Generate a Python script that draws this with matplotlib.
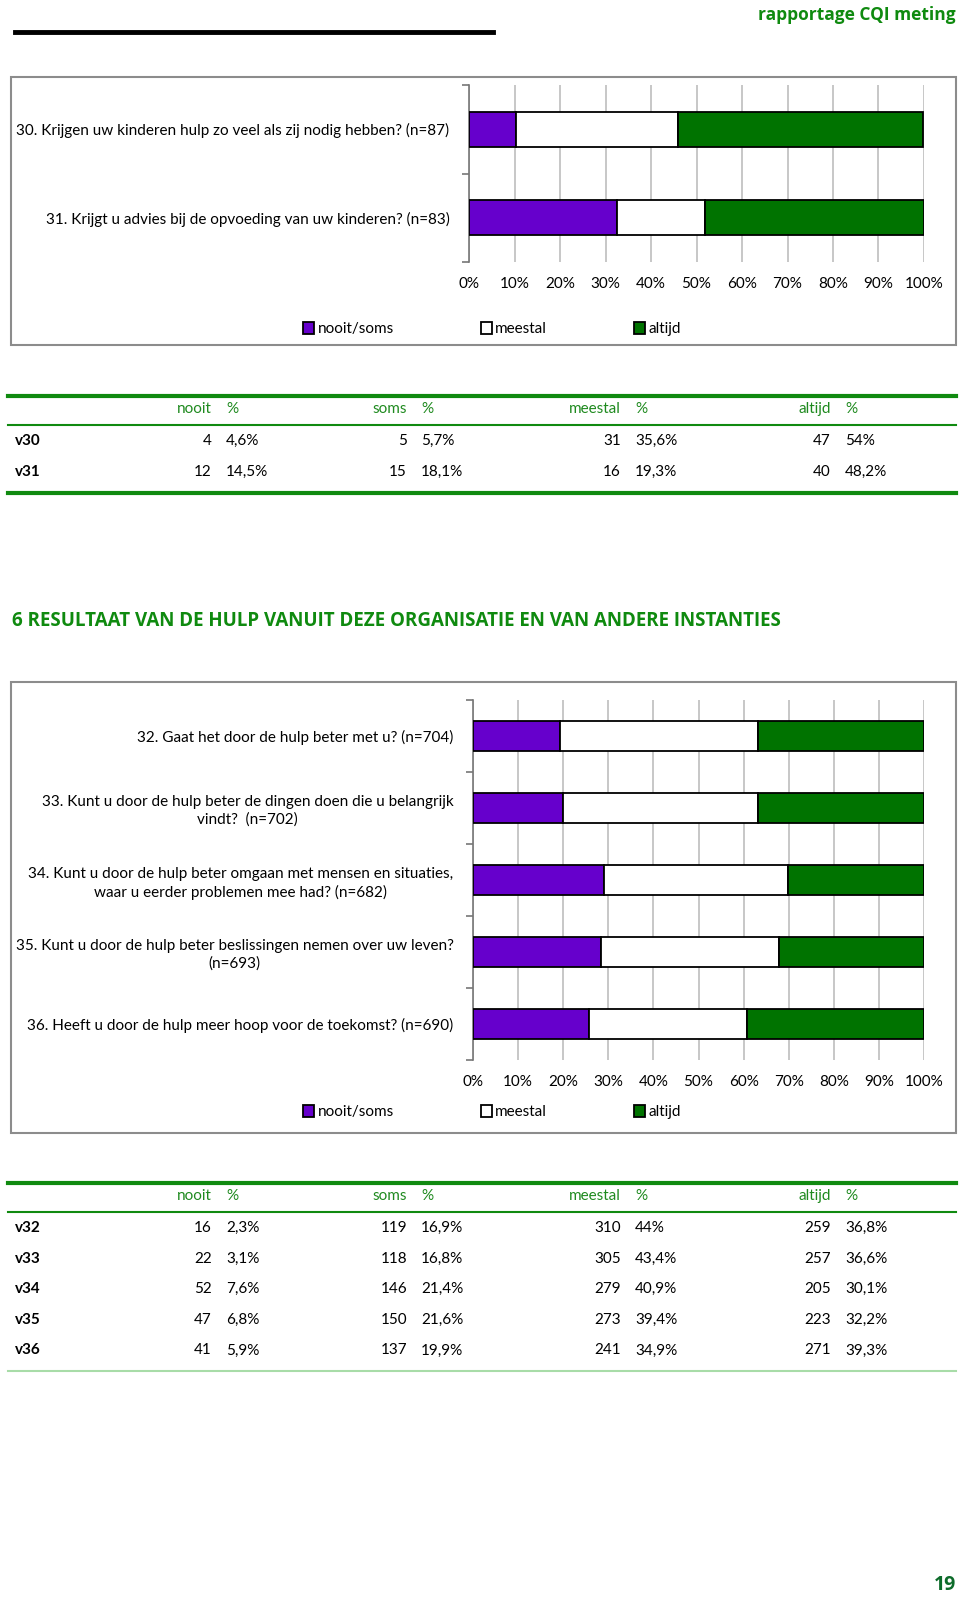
import matplotlib
matplotlib.use("Agg")
import matplotlib.pyplot as plt
from matplotlib.lines import Line2D
from matplotlib.patches import Rectangle

plt.rcParams['font.family'] = ['Lato', 'DejaVu Sans']

W, H = 960, 1599
FS = 11

# data
q_top = ["30. Krijgen uw kinderen hulp zo veel als zij nodig hebben? (n=87)",
         "31. Krijgt u advies bij de opvoeding van uw kinderen? (n=83)"]
codes_top = ["v30", "v31"]
nooit_top = [4, 12]
nooit_pct_top = [4.6, 14.5]
soms_top = [5, 15]
soms_pct_top = [5.7, 18.1]
meestal_top = [31, 16]
meestal_pct_top = [35.6, 19.3]
altijd_top = [47, 40]
altijd_pct_top = [54.0, 48.2]

q_bot = ["32. Gaat het door de hulp beter met u? (n=704)",
         "33. Kunt u door de hulp beter de dingen doen die u belangrijk\nvindt?  (n=702)",
         "34. Kunt u door de hulp beter omgaan met mensen en situaties,\nwaar u eerder problemen mee had? (n=682)",
         "35. Kunt u door de hulp beter beslissingen nemen over uw leven?\n(n=693)",
         "36. Heeft u door de hulp meer hoop voor de toekomst? (n=690)"]
codes_bot = ["v32", "v33", "v34", "v35", "v36"]
nooit_bot = [16, 22, 52, 47, 41]
nooit_pct_bot = [2.3, 3.1, 7.6, 6.8, 5.9]
soms_bot = [119, 118, 146, 150, 137]
soms_pct_bot = [16.9, 16.8, 21.4, 21.6, 19.9]
meestal_bot = [310, 305, 279, 273, 241]
meestal_pct_bot = [44.0, 43.4, 40.9, 39.4, 34.9]
altijd_bot = [259, 257, 205, 223, 271]
altijd_pct_bot = [36.8, 36.6, 30.1, 32.2, 39.3]

series_names = ["nooit/soms", "meestal", "altijd"]
colors = ["#6600cc", "#ffffff", "#007300"]
tick_labels = [f"{v}%" for v in range(0, 101, 10)]

GREEN = "#108a10"
TXT_GREEN = "#1f8a1f"

fig = plt.figure(figsize=(W / 100, H / 100), dpi=100)


def fx(x):
    return x / W


def fy(y):
    return 1 - y / H


def axes_px(x0, y0, x1, y1):
    return fig.add_axes([fx(x0), fy(y1), (x1 - x0) / W, (y1 - y0) / H])


def pct(v):
    return f"{v:g}".replace(".", ",") + "%"


# header
fig.text(fx(956), fy(15), "rapportage CQI meting", ha="right", va="center",
         fontsize=12.5, fontweight="bold", color="#0f8a0f", family=["Open Sans", "DejaVu Sans"])
fig.add_artist(Line2D([fx(15), fx(493)], [fy(32), fy(32)], color="black", lw=3.5))

# boxes
for (x0, y0, x1, y1) in [(11, 77, 956, 345), (11, 682, 956, 1133)]:
    fig.add_artist(Rectangle((fx(x0), fy(y1)), (x1 - x0) / W, (y1 - y0) / H,
                             fill=False, ec="#8c8c8c", lw=1.5, transform=fig.transFigure))


def bar_chart(ax, labels, nooit_p, soms_p, meestal_p, altijd_p, bar_h, legend_y):
    n = len(labels)
    ns = [a + b for a, b in zip(nooit_p, soms_p)]
    vals = [ns, meestal_p, altijd_p]
    left = [0] * n
    handles = []
    for name, c, v in zip(series_names, colors, vals):
        b = ax.barh(range(n), v, left=left, height=bar_h, color=c, edgecolor="black",
                    lw=1.3, label=name, zorder=3)
        handles.append(b)
        left = [l + x for l, x in zip(left, v)]
    ax.set_xlim(0, max(left))
    ax.set_ylim(n - 0.5, -0.5)
    ax.set_xticks([max(left) * i / 10 for i in range(11)])
    ax.set_xticklabels(tick_labels, fontsize=FS)
    ax.tick_params(axis="x", length=0, pad=11)
    ax.set_yticks(range(n))
    ax.set_yticklabels(labels, fontsize=FS, ma="center", linespacing=1.3)
    ax.tick_params(axis="y", which="major", length=0, pad=14)
    ax.set_yticks([i - 0.5 for i in range(n + 1)], minor=True)
    ax.tick_params(axis="y", which="minor", length=5, color="#777777", width=1.2)
    ax.grid(axis="x", color="#b8b8b8", lw=1.1, zorder=0)
    for s in ["top", "right", "bottom"]:
        ax.spines[s].set_visible(False)
    ax.spines["left"].set_color("#777777")
    ax.spines["left"].set_linewidth(1.2)
    fig.legend(handles=handles, loc="center left", bbox_to_anchor=(fx(303), fy(legend_y)),
               ncol=3, frameon=False, fontsize=FS, handlelength=0.7, handleheight=0.85,
               handletextpad=0.25, columnspacing=5.7, borderpad=0, borderaxespad=0)


ax1 = axes_px(469, 85, 924, 262)
bar_chart(ax1, q_top, nooit_pct_top, soms_pct_top, meestal_pct_top, altijd_pct_top, 0.39, 329)

ax2 = axes_px(473, 700, 924, 1060)
bar_chart(ax2, q_bot, nooit_pct_bot, soms_pct_bot, meestal_pct_bot, altijd_pct_bot, 0.41, 1112)


def table(y_top, codes, cols, bottom_thin):
    row_h = 30.6
    fig.add_artist(Line2D([fx(8), fx(956)], [fy(y_top), fy(y_top)], color=GREEN, lw=3))
    hy = y_top + 13
    num_right = [212, 407, 621, 831]
    pct_left = [226, 421, 635, 845]
    for (head, cnt, pc), xr, xl in zip(cols, num_right, pct_left):
        fig.text(fx(xr), fy(hy), head, ha="right", va="center", fontsize=FS, color=TXT_GREEN)
        fig.text(fx(xl), fy(hy), "%", ha="left", va="center", fontsize=FS, color=TXT_GREEN)
    line2 = y_top + 29
    fig.add_artist(Line2D([fx(8), fx(956)], [fy(line2), fy(line2)], color=GREEN, lw=1.5))
    for i, code in enumerate(codes):
        ry = line2 + 16 + i * row_h
        fig.text(fx(15), fy(ry), code, ha="left", va="center", fontsize=FS, fontweight="bold")
        for (head, cnt, pc), xr, xl in zip(cols, num_right, pct_left):
            fig.text(fx(xr), fy(ry), str(cnt[i]), ha="right", va="center", fontsize=FS)
            fig.text(fx(xl), fy(ry), pct(pc[i]), ha="left", va="center", fontsize=FS)
    yb = line2 + 16 + (len(codes) - 1) * row_h + 21
    if bottom_thin:
        fig.add_artist(Line2D([fx(8), fx(956)], [fy(yb), fy(yb)], color="#a8dca8", lw=1.5))
    else:
        fig.add_artist(Line2D([fx(8), fx(956)], [fy(yb), fy(yb)], color=GREEN, lw=3))


table(396, codes_top,
      [("nooit", nooit_top, nooit_pct_top), ("soms", soms_top, soms_pct_top),
       ("meestal", meestal_top, meestal_pct_top), ("altijd", altijd_top, altijd_pct_top)],
      False)

fig.text(fx(12), fy(621), "6 RESULTAAT VAN DE HULP VANUIT DEZE ORGANISATIE EN VAN ANDERE INSTANTIES",
         ha="left", va="center", fontsize=13.5, fontweight="bold", color="#0f8a0f",
         family=["Open Sans", "DejaVu Sans"])

table(1183, codes_bot,
      [("nooit", nooit_bot, nooit_pct_bot), ("soms", soms_bot, soms_pct_bot),
       ("meestal", meestal_bot, meestal_pct_bot), ("altijd", altijd_bot, altijd_pct_bot)],
      True)

fig.text(fx(956), fy(1585), "19", ha="right", va="center", fontsize=14, fontweight="bold",
         color="#0d6b2a", family=["Open Sans", "DejaVu Sans"])

fig.savefig("out.png", dpi=100)
